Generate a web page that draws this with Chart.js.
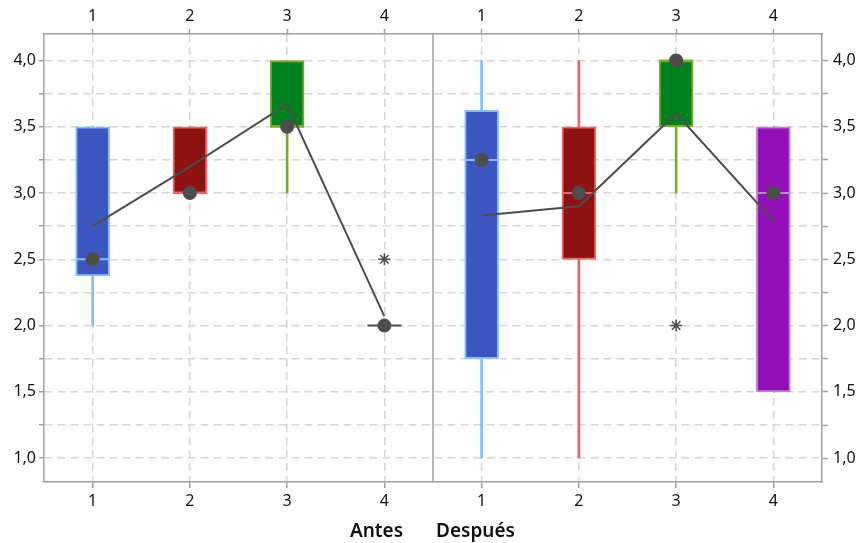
<!DOCTYPE html>
<html>
<head>
<meta charset="utf-8">
<script src="https://cdn.jsdelivr.net/npm/chart.js@4.4.1/dist/chart.umd.min.js"></script>
<style>
  html, body { margin: 0; padding: 0; background: #fff; }
  canvas { display: block; }
</style>
</head>
<body>
<canvas id="chart" width="860" height="543"></canvas>
<script>
// Groups 1..4 in each panel
const grupos = [1, 2, 3, 4];
const paneles = ['Antes', 'Después'];

// Antes
const antesQ1 = [2.375, 3.0, 3.5, 2.0];
const antesQ3 = [3.5, 3.5, 4.0, 2.0];
const antesMediana = [2.5, 3.0, 3.5, 2.0];
const antesBigoteMin = [2.0, 3.0, 3.0, 2.0];
const antesBigoteMax = [3.5, 3.5, 4.0, 2.0];
const antesMedia = [2.75, 3.2, 3.67, 2.07];
const antesAtipicoGrupo = [4];
const antesAtipicoValor = [2.5];

// Después
const despuesQ1 = [1.75, 2.5, 3.5, 1.5];
const despuesQ3 = [3.625, 3.5, 4.0, 3.5];
const despuesMediana = [3.25, 3.0, 4.0, 3.0];
const despuesBigoteMin = [1.0, 1.0, 3.0, 1.5];
const despuesBigoteMax = [4.0, 4.0, 4.0, 3.5];
const despuesMedia = [2.83, 2.9, 3.6, 2.79];
const despuesAtipicoGrupo = [3];
const despuesAtipicoValor = [2.0];

const yTicks = [1.0, 1.5, 2.0, 2.5, 3.0, 3.5, 4.0];

// Styles
const rellenos = ['#3c55bf', '#8e1212', '#00811f', '#9111b7'];
const bordes = ['#84bffa', '#e56868', '#7ea82e', '#bb86c6'];
const gris = '#4d4d4d';
const ejeColor = '#a0a0a0';
const rejillaColor = '#d6d6d6';
const fuente = 'Noto Sans';

const n = grupos.length;
const xDe = (panel, i) => grupos[i] + panel * n;

const q1 = [...antesQ1, ...despuesQ1];
const q3 = [...antesQ3, ...despuesQ3];
const mediana = [...antesMediana, ...despuesMediana];
const bMin = [...antesBigoteMin, ...despuesBigoteMin];
const bMax = [...antesBigoteMax, ...despuesBigoteMax];
const xs = [...grupos.map((g, i) => xDe(0, i)), ...grupos.map((g, i) => xDe(1, i))];
const colRelleno = [...rellenos, ...rellenos];
const colBorde = [...bordes, ...bordes];
const colMediana = xs.map((x, k) => q1[k] === q3[k] ? gris : colBorde[k]);

const atipicos = [
  ...antesAtipicoGrupo.map((g, k) => ({ x: g, y: antesAtipicoValor[k] })),
  ...despuesAtipicoGrupo.map((g, k) => ({ x: g + n, y: despuesAtipicoValor[k] }))
];

const divisor = {
  id: 'divisor',
  beforeDatasetsDraw(chart) {
    const { ctx, chartArea, scales } = chart;
    const x = scales.x.getPixelForValue(n + 0.5);
    ctx.save();
    ctx.strokeStyle = ejeColor;
    ctx.lineWidth = 1.5;
    ctx.beginPath();
    ctx.moveTo(x, chartArea.top);
    ctx.lineTo(x, chartArea.bottom);
    ctx.stroke();
    ctx.restore();
  },
  afterDraw(chart) {
    const { ctx, chartArea, scales } = chart;
    const x = scales.x.getPixelForValue(n + 0.5);
    const y = chartArea.bottom + 55;
    ctx.save();
    ctx.fillStyle = '#111';
    ctx.font = '600 19px "' + fuente + '"';
    ctx.textBaseline = 'alphabetic';
    ctx.textAlign = 'right';
    ctx.fillText(paneles[0], x - 30, y);
    ctx.textAlign = 'left';
    ctx.fillText(paneles[1], x + 3, y);
    ctx.restore();
  }
};

const ticksY = {
  color: '#111',
  font: { family: fuente, size: 16 },
  callback: v => yTicks.includes(v) ? v.toFixed(1).replace('.', ',') : ''
};
// one tick every 0.25 between the first and last labelled value
const ponerTicksY = s => {
  const lista = [];
  for (let k = 0; k <= (yTicks[yTicks.length - 1] - yTicks[0]) * 4; k++) lista.push({ value: yTicks[0] + k / 4 });
  s.ticks = lista;
};
const ponerTicksX = s => { s.ticks = xs.map(v => ({ value: v })); };
const ticksX = {
  color: '#111',
  font: { family: fuente, size: 16 },
  autoSkip: false,
  maxRotation: 0,
  callback: v => ((v - 1) % n) + 1
};

new Chart(document.getElementById('chart'), {
  type: 'bar',
  data: {
    datasets: [
      {
        type: 'bar',
        data: xs.map((x, k) => ({ x: x, y: [bMin[k], bMax[k]] })),
        backgroundColor: colBorde,
        barThickness: 2,
        grouped: false,
        order: 6
      },
      {
        type: 'bar',
        data: xs.map((x, k) => ({ x: x, y: [q1[k], q3[k]] })),
        backgroundColor: colRelleno,
        borderColor: colBorde,
        borderWidth: 2,
        borderSkipped: false,
        barThickness: 34,
        grouped: false,
        order: 5
      },
      {
        type: 'line',
        data: xs.map((x, k) => ({ x: x, y: mediana[k] })),
        showLine: false,
        pointStyle: 'line',
        pointRadius: 17,
        pointBorderColor: colMediana,
        pointBorderWidth: 2,
        order: 4
      },
      {
        type: 'line',
        data: grupos.map((g, i) => ({ x: xDe(0, i), y: antesMedia[i] })),
        borderColor: gris,
        borderWidth: 2,
        pointRadius: 0,
        tension: 0,
        order: 3
      },
      {
        type: 'line',
        data: grupos.map((g, i) => ({ x: xDe(1, i), y: despuesMedia[i] })),
        borderColor: gris,
        borderWidth: 2,
        pointRadius: 0,
        tension: 0,
        order: 3
      },
      {
        type: 'line',
        data: xs.map((x, k) => ({ x: x, y: mediana[k] })),
        showLine: false,
        pointRadius: 7,
        pointBackgroundColor: gris,
        pointBorderWidth: 0,
        order: 2
      },
      {
        type: 'line',
        data: atipicos,
        showLine: false,
        pointStyle: 'star',
        pointRadius: 6,
        pointBorderColor: gris,
        pointBorderWidth: 1.5,
        order: 1
      }
    ]
  },
  options: {
    responsive: false,
    animation: false,
    layout: { padding: 0 },
    plugins: { legend: { display: false }, tooltip: { enabled: false } },
    scales: {
      x: {
        type: 'linear',
        position: 'bottom',
        offset: false,
        min: 0.5,
        max: 2 * n + 0.5,
        afterBuildTicks: ponerTicksX,
        afterFit: s => { s.height = 61; },
        ticks: Object.assign({ padding: 4 }, ticksX),
        border: { color: ejeColor, width: 1.5, dash: [8, 5] },
        grid: {
          offset: false,
          color: rejillaColor, lineWidth: 1.5,
          tickLength: 6, tickColor: ejeColor, tickWidth: 1.5, tickBorderDash: []
        }
      },
      x2: {
        type: 'linear',
        position: 'top',
        offset: false,
        min: 0.5,
        max: 2 * n + 0.5,
        afterBuildTicks: ponerTicksX,
        afterFit: s => { s.height = 34; },
        ticks: Object.assign({ padding: 3 }, ticksX),
        border: { color: ejeColor, width: 1.5 },
        grid: {
          offset: false,
          drawOnChartArea: false,
          tickLength: 5, tickColor: ejeColor, tickWidth: 1.5, tickBorderDash: []
        }
      },
      y: {
        position: 'left',
        min: 0.82,
        max: 4.2,
        afterBuildTicks: ponerTicksY,
        afterFit: s => { s.width = 44; },
        ticks: Object.assign({ padding: 3 }, ticksY),
        border: { color: ejeColor, width: 1.5, dash: [8, 5] },
        grid: {
          color: rejillaColor, lineWidth: 1.5,
          tickLength: 5, tickColor: ejeColor, tickWidth: 1.5, tickBorderDash: []
        }
      },
      y2: {
        position: 'right',
        min: 0.82,
        max: 4.2,
        afterBuildTicks: ponerTicksY,
        afterFit: s => { s.width = 38; },
        ticks: Object.assign({ padding: 5 }, ticksY),
        border: { color: ejeColor, width: 1.5 },
        grid: {
          drawOnChartArea: false,
          tickLength: 6, tickColor: ejeColor, tickWidth: 1.5, tickBorderDash: []
        }
      }
    }
  },
  plugins: [divisor]
});
</script>
</body>
</html>
